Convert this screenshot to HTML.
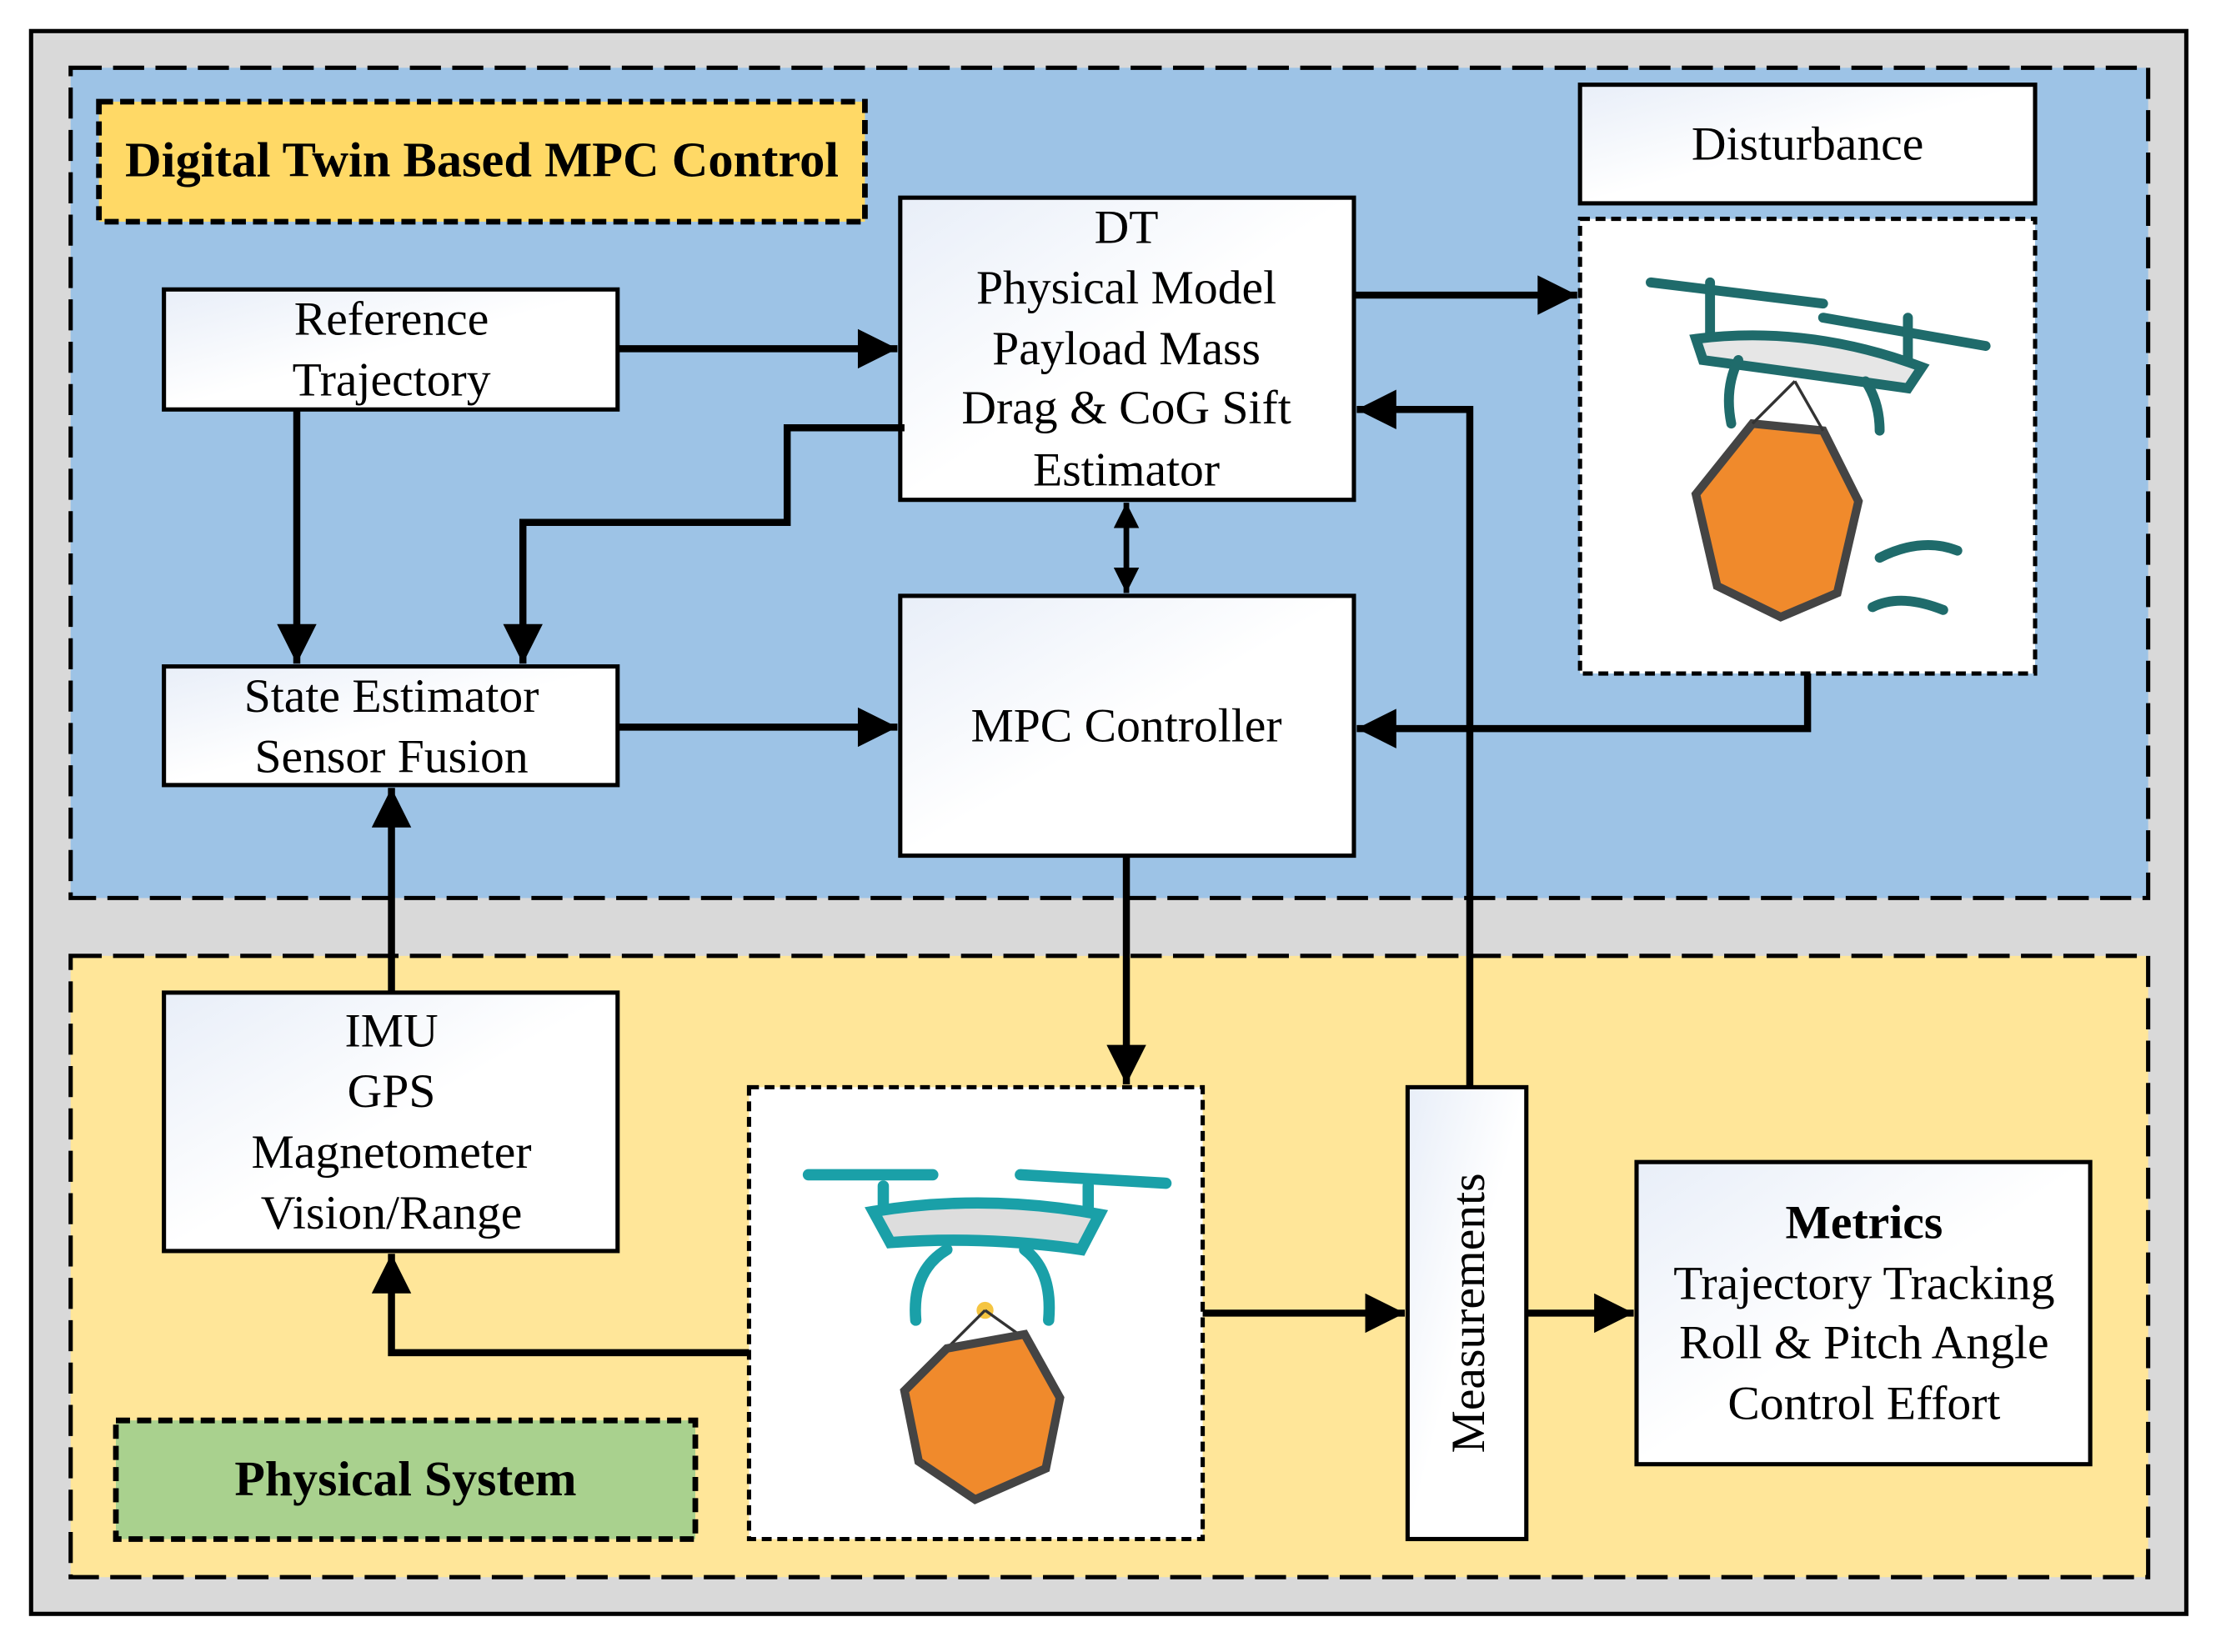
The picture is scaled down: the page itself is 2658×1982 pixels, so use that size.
<!DOCTYPE html>
<html><head><meta charset="utf-8"><style>html,body{margin:0;padding:0;background:#fff}svg{display:block}</style></head>
<body>
<svg width="2658" height="1982" viewBox="0 0 1568 1170" preserveAspectRatio="none" xmlns="http://www.w3.org/2000/svg" font-family="Liberation Serif, serif">
<defs>
<marker id="a" viewBox="0 0 10 10" refX="10" refY="5" markerWidth="40" markerHeight="28" markerUnits="userSpaceOnUse" orient="auto"><path d="M0,0 L10,5 L0,10 z" fill="#000"/></marker>
<marker id="as" viewBox="0 0 10 10" refX="10" refY="5" markerWidth="24" markerHeight="18" markerUnits="userSpaceOnUse" orient="auto-start-reverse"><path d="M0,0 L10,5 L0,10 z" fill="#000"/></marker>
<linearGradient id="g" x1="0" y1="0" x2="1" y2="1"><stop offset="0" stop-color="#e8eef8"/><stop offset="0.5" stop-color="#fff"/></linearGradient>
</defs>
<rect x="22" y="22" width="1525" height="1121" fill="#d9d9d9" stroke="#000" stroke-width="3"/>
<rect x="50" y="48" width="1470" height="588" fill="#9dc3e6" stroke="#000" stroke-width="3" stroke-dasharray="22,8"/>
<rect x="50" y="677" width="1470" height="440" fill="#ffe699" stroke="#000" stroke-width="3" stroke-dasharray="22,8"/>
<rect x="70" y="72" width="542" height="85" fill="#ffd966" stroke="#000" stroke-width="4" stroke-dasharray="10,5"/>
<text x="341" y="125" font-size="35" font-weight="bold" text-anchor="middle" textLength="505" lengthAdjust="spacingAndGlyphs">Digital Twin Based MPC Control</text>
<rect x="82" y="1006" width="410" height="84" fill="#a9d18e" stroke="#000" stroke-width="4" stroke-dasharray="10,5"/>
<text x="287" y="1059" font-size="35" font-weight="bold" text-anchor="middle" textLength="242" lengthAdjust="spacingAndGlyphs">Physical System</text>
<g stroke="#000" stroke-width="3" fill="url(#g)">
<rect x="1118" y="60" width="322" height="84"/>
<rect x="637" y="140" width="321" height="214"/>
<rect x="116" y="205" width="321" height="85"/>
<rect x="116" y="472" width="321" height="84"/>
<rect x="637" y="422" width="321" height="184"/>
<rect x="116" y="703" width="321" height="183"/>
<rect x="996" y="770" width="84" height="320"/>
<rect x="1158" y="823" width="321" height="214"/>
</g>
<g stroke="#000" stroke-width="3" fill="#fff" stroke-dasharray="7,4">
<rect x="1118" y="155" width="322" height="322"/>
<rect x="530" y="770" width="321" height="320"/>
</g>
<g font-size="34" text-anchor="middle">
<text x="1279" y="113">Disturbance</text>
<text x="797" y="172">DT</text><text x="797" y="215">Physical Model</text><text x="797" y="258">Payload Mass</text><text x="797" y="300">Drag &amp; CoG Sift</text><text x="797" y="344">Estimator</text>
<text x="277" y="237">Reference</text><text x="277" y="280">Trajectory</text>
<text x="277" y="504">State Estimator</text><text x="277" y="547">Sensor Fusion</text>
<text x="797" y="525">MPC Controller</text>
<text x="277" y="741">IMU</text><text x="277" y="784">GPS</text><text x="277" y="827">Magnetometer</text><text x="277" y="870">Vision/Range</text>
<text x="1319" y="877" font-weight="bold">Metrics</text><text x="1319" y="920">Trajectory Tracking</text><text x="1319" y="962">Roll &amp; Pitch Angle</text><text x="1319" y="1005">Control Effort</text>
<text transform="translate(1050,930) rotate(-90)">Measurements</text>
</g>
<g stroke="#000" stroke-width="5" fill="none" marker-end="url(#a)">
<path d="M437,247 H635"/>
<path d="M210,290 V470"/>
<path d="M640,303 H557 V370 H370 V470"/>
<path d="M437,515 H635"/>
<path d="M958,209 H1116"/>
<path d="M1279,477 V516 H960"/>
<path d="M1040,770 V290 H960"/>
<path d="M797,606 V768"/>
<path d="M277,703 V558"/>
<path d="M530,958 H277 V888"/>
<path d="M851,930 H994"/>
<path d="M1080,930 H1156"/>
</g>
<path d="M797,356 V420" stroke="#000" stroke-width="4" marker-start="url(#as)" marker-end="url(#as)"/>
<g stroke="#1f6b6b" stroke-width="7" fill="none" stroke-linecap="round">
<path d="M1168,200 L1290,215"/><path d="M1290,225 L1405,245"/>
<path d="M1210,200 V240"/><path d="M1350,225 V255"/>
<path d="M1200,240 Q1280,230 1360,260 L1350,275 Q1280,265 1205,255 z" fill="#e6e6e6"/>
<path d="M1230,255 Q1220,275 1225,300"/><path d="M1320,270 Q1330,285 1330,305"/>
<path d="M1330,395 Q1360,380 1385,390"/><path d="M1325,430 Q1345,420 1375,432"/>
</g>
<path d="M1200,350 L1240,300 L1290,305 L1315,355 L1300,420 L1260,437 L1215,415 z" fill="#f08a2c" stroke="#444" stroke-width="6"/>
<path d="M1270,270 L1240,300 M1270,270 L1290,305" stroke="#333" stroke-width="2"/>
<g stroke="#1aa0a8" stroke-width="8" fill="none" stroke-linecap="round">
<path d="M572,832 L660,832"/><path d="M722,832 L825,838"/>
<path d="M625,840 V860"/><path d="M770,840 V860"/>
<path d="M618,858 Q697,845 778,860 L765,885 Q697,875 630,880 z" fill="#ddd"/>
<path d="M670,885 Q645,900 648,935"/><path d="M725,885 Q745,900 742,935"/>
</g>
<circle cx="697" cy="928" r="6" fill="#f5c542"/>
<path d="M697,928 L665,960 M697,928 L725,948" stroke="#333" stroke-width="2"/>
<path d="M640,985 L670,955 L725,945 L750,990 L740,1040 L690,1062 L650,1035 z" fill="#f08a2c" stroke="#444" stroke-width="6"/>
</svg>
</body></html>
